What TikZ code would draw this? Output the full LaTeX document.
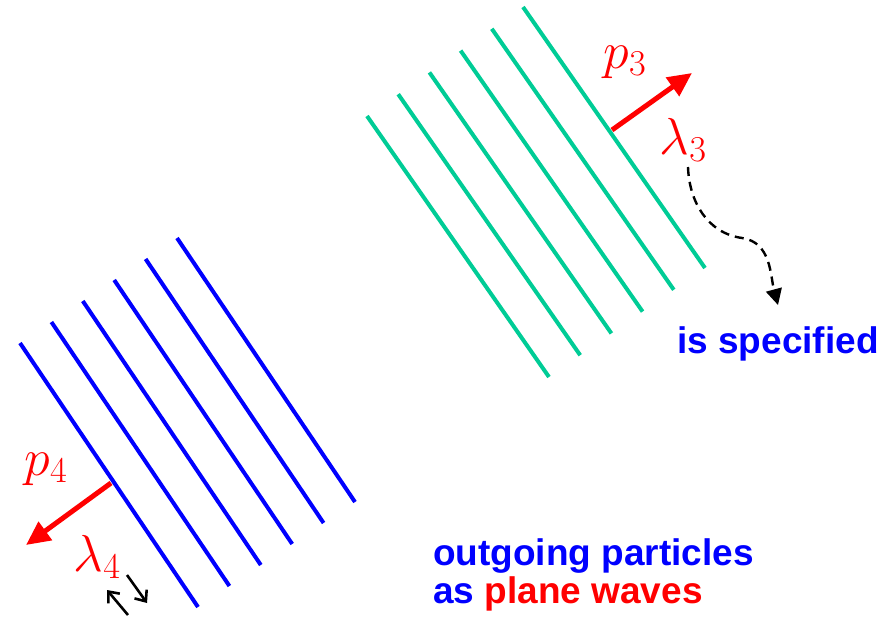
\RequirePackage{fix-cm}
\documentclass[tikz,border=0pt]{standalone}
\usepackage{fontspec}
\setsansfont{Liberation Sans}
\usetikzlibrary{arrows.meta}
\definecolor{wavegreen}{RGB}{0,204,150}
\definecolor{waveblue}{RGB}{0,0,255}
\definecolor{wavered}{RGB}{255,0,0}

\begin{document}
\begin{tikzpicture}
  [x=1pt,y=-1pt,
   front/.style={line width=4pt},
   momentum/.style={draw=wavered,line width=5pt,-{Triangle[length=24pt,width=22pt]}},
   lbl/.style={text=wavered,inner sep=0pt,font=\fontsize{52}{52}\selectfont},
   flip/.style={line width=2.6pt,-{Straight Barb[length=9pt,width=15pt]}},
   words/.style={inner sep=0pt,font=\fontsize{37}{38}\selectfont\sffamily\bfseries}]
  \useasboundingbox (0,0) rectangle (883,619);

  % wave fronts
  \foreach \i in {0,...,5}
    \draw[front,wavegreen] (367+31.2*\i,116-21.8*\i) -- +(182,261);
  \foreach \i in {0,...,5}
    \draw[front,waveblue] (20+31.4*\i,343-21*\i) -- +(178,264);

  \coordinate (s3) at (612,130);
  \coordinate (e3) at (692,73);
  \coordinate (s4) at (111,483);
  \coordinate (e4) at (26,545);
  \draw[momentum] (s3) -- (e3);
  \draw[momentum] (s4) -- (e4);

  \node[lbl] (p3) at (625,62) {$p_3$};
  \node[lbl] (l3) at (683,140) {$\lambda_3$};
  \node[lbl] (p4) at (46,469) {$p_4$};
  \node[lbl] (l4) at (97,557) {$\lambda_4$};

  % helicity flip
  \coordinate (h1) at (128,615);
  \coordinate (h2) at (107,590);
  \coordinate (h3) at (127,575);
  \coordinate (h4) at (147,603);
  \draw[flip] (h1) -- (h2);
  \draw[flip] (h3) -- (h4);

  \node[words,text=waveblue,anchor=base west] (spec) at (677,353) {is specified};
  \coordinate (d1) at (688,167);
  \coordinate (d2) at (742,238);
  \draw[line width=2.4pt,dash pattern=on 9pt off 6pt,-{Triangle[length=16pt,width=16pt]}]
    (d1) to[out=-88,in=172] (d2) to[out=-8,in=105] (778,305);

  \node[words,text=waveblue,anchor=base west] (out1) at (433,565) {outgoing particles};
  \node[words,text=waveblue,anchor=base west] (out2) at (433,603) {as \textcolor{wavered}{plane waves}};
\end{tikzpicture}
\end{document}
